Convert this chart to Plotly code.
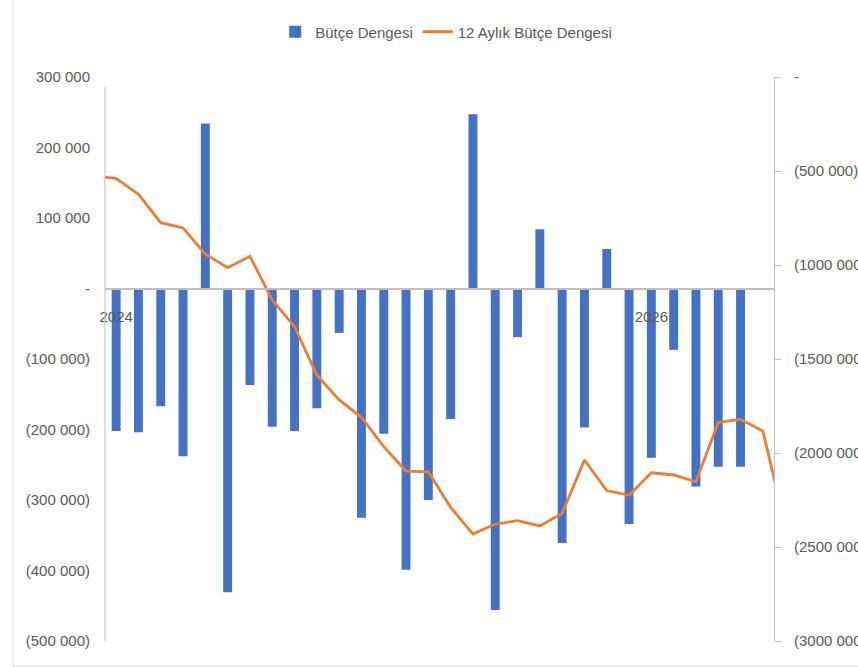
import plotly.graph_objects as go

# Monthly categories (line series runs one month before and after the bars)
months = ["2023-12",
          "2024-01", "2024-02", "2024-03", "2024-04", "2024-05", "2024-06",
          "2024-07", "2024-08", "2024-09", "2024-10", "2024-11", "2024-12",
          "2025-01", "2025-02", "2025-03", "2025-04", "2025-05", "2025-06",
          "2025-07", "2025-08", "2025-09", "2025-10", "2025-11", "2025-12",
          "2026-01", "2026-02", "2026-03", "2026-04", "2026-05", "2026-06",
          "2026-07"]

bar_months = months[1:30]
butce_dengesi = [-202000, -204000, -167000, -238000, 234000, -431000,
                 -137000, -196000, -202000, -170000, -63000, -325000,
                 -206000, -399000, -300000, -185000, 247000, -456000,
                 -69000, 84000, -361000, -197000, 56000, -334000,
                 -240000, -87000, -281000, -253000, -253000]

line_months = months
aylik_12 = [-528000,
            -539000, -624000, -775000, -803000, -943000, -1014000,
            -954000, -1186000, -1328000, -1585000, -1718000, -1810000,
            -1966000, -2096000, -2100000, -2289000, -2431000, -2378000,
            -2360000, -2388000, -2321000, -2037000, -2200000, -2225000,
            -2105000, -2117000, -2153000, -1837000, -1821000, -1883000,
            -2380000]

left_vals = [300000, 200000, 100000, 0, -100000, -200000, -300000, -400000, -500000]
left_text = ["300 000", "200 000", "100 000", "-", "(100 000)", "(200 000)",
             "(300 000)", "(400 000)", "(500 000)"]
right_vals = [0, -500000, -1000000, -1500000, -2000000, -2500000, -3000000]
right_text = ["-", "(500 000)", "(1000 000)", "(1500 000)", "(2000 000)",
              "(2500 000)", "(3000 000)"]

FONT = "Liberation Sans, Arial, sans-serif"
GREY_TXT = "#595959"
GREY_LN = "#BFBFBF"

fig = go.Figure()
fig.add_trace(go.Bar(x=bar_months, y=butce_dengesi, name="Bütçe Dengesi",
                     marker=dict(color="#4472C4", line=dict(width=0)),
                     width=0.4, yaxis="y"))
fig.add_trace(go.Scatter(x=line_months, y=aylik_12, name="12 Aylık Bütçe Dengesi",
                         mode="lines", line=dict(color="#ED7D31", width=2.8),
                         yaxis="y2"))

L, R, T, B = 105, 84, 77, 26
W, H = 858, 667
pw, ph = W - L - R, H - T - B
zero_pos = 500000 / 800000  # zero of left axis as fraction of plot height

fig.update_layout(
    width=W, height=H,
    margin=dict(l=L, r=R, t=T, b=B, autoexpand=False),
    paper_bgcolor="white", plot_bgcolor="white",
    font=dict(family=FONT, size=15, color=GREY_TXT),
    showlegend=True,
    legend=dict(orientation="h", x=0.51, xanchor="center", y=1 + 45 / ph,
                yanchor="middle", font=dict(size=15, color=GREY_TXT),
                itemwidth=30, traceorder="normal"),
    bargap=0.6,
    xaxis=dict(type="category", categoryorder="array", categoryarray=months,
               range=[0.5, 30.5], anchor="free", position=zero_pos,
               showline=True, linecolor=GREY_LN, linewidth=1.5,
               showgrid=False, zeroline=False, automargin=False,
               tickvals=["2024-01", "2026-01"], ticktext=["2024", "2026"],
               ticks="", ticklabelstandoff=15, layer="above traces"),
    yaxis=dict(range=[-500000, 300000], tickvals=left_vals, ticktext=left_text,
               showgrid=False, zeroline=False, showline=False, automargin=False,
               ticks="", ticklabelstandoff=14),
    yaxis2=dict(range=[-3000000, 0], overlaying="y", side="right",
                tickvals=right_vals, ticktext=right_text, automargin=False,
                showgrid=False, zeroline=False, showline=True,
                linecolor=GREY_LN, linewidth=1, ticks="outside",
                ticklen=6, tickcolor=GREY_LN, ticklabelstandoff=10),
)

# Left value-axis line (starts a little below the top of the plot area)
fig.add_shape(type="line", xref="paper", yref="paper",
              x0=0, x1=0, y0=0, y1=(T + ph - 87) / ph,
              line=dict(color=GREY_LN, width=1))

# Chart-area border on the left and bottom edges
bx = (13 - L) / pw
by = -(666 - (T + ph)) / ph
fig.add_shape(type="line", xref="paper", yref="paper",
              x0=bx, x1=bx, y0=by, y1=1 + T / ph + 0.01,
              line=dict(color="#D9D9D9", width=1))
fig.add_shape(type="line", xref="paper", yref="paper",
              x0=bx, x1=1 + R / pw + 0.01, y0=by, y1=by,
              line=dict(color="#D9D9D9", width=1))

fig.write_html("out.html")
